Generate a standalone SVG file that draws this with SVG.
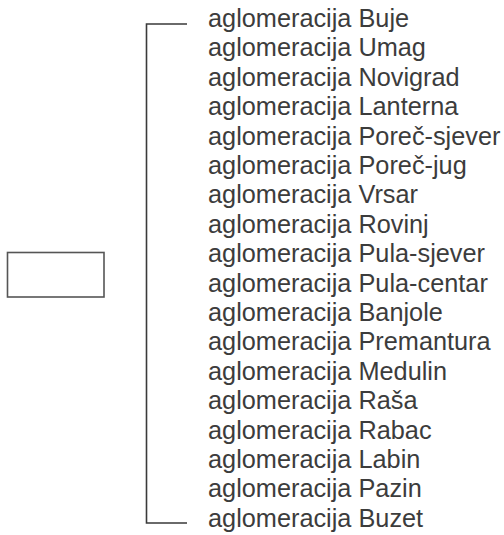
<svg xmlns="http://www.w3.org/2000/svg" width="504" height="535" viewBox="0 0 504 535">
<style>
.t{font-family:"Liberation Sans",Arial,sans-serif;font-size:25.3px;fill:#3c3c3c}
.ln{stroke:#3a3a3a;stroke-width:1.6;fill:none}
.box{stroke:#555;stroke-width:1.6;fill:#fff}
</style>
<rect width="504" height="535" fill="#fff"/>
<g id="root"><rect class="box" x="7.5" y="252.5" width="96.5" height="44.5"/></g>
<g id="connectors"><path class="ln" d="M187,24 H146.5 V523 H187"/></g>
<g id="items">
<text class="t" x="208" y="27">aglomeracija Buje</text>
<text class="t" x="208" y="56.4">aglomeracija Umag</text>
<text class="t" x="208" y="85.8">aglomeracija Novigrad</text>
<text class="t" x="208" y="115.2">aglomeracija Lanterna</text>
<text class="t" x="208" y="144.6">aglomeracija Poreč-sjever</text>
<text class="t" x="208" y="174">aglomeracija Poreč-jug</text>
<text class="t" x="208" y="203.4">aglomeracija Vrsar</text>
<text class="t" x="208" y="232.8">aglomeracija Rovinj</text>
<text class="t" x="208" y="262.2">aglomeracija Pula-sjever</text>
<text class="t" x="208" y="291.6">aglomeracija Pula-centar</text>
<text class="t" x="208" y="321">aglomeracija Banjole</text>
<text class="t" x="208" y="350.4">aglomeracija Premantura</text>
<text class="t" x="208" y="379.8">aglomeracija Medulin</text>
<text class="t" x="208" y="409.2">aglomeracija Raša</text>
<text class="t" x="208" y="438.6">aglomeracija Rabac</text>
<text class="t" x="208" y="468">aglomeracija Labin</text>
<text class="t" x="208" y="497.4">aglomeracija Pazin</text>
<text class="t" x="208" y="526.8">aglomeracija Buzet</text>
</g>
</svg>
